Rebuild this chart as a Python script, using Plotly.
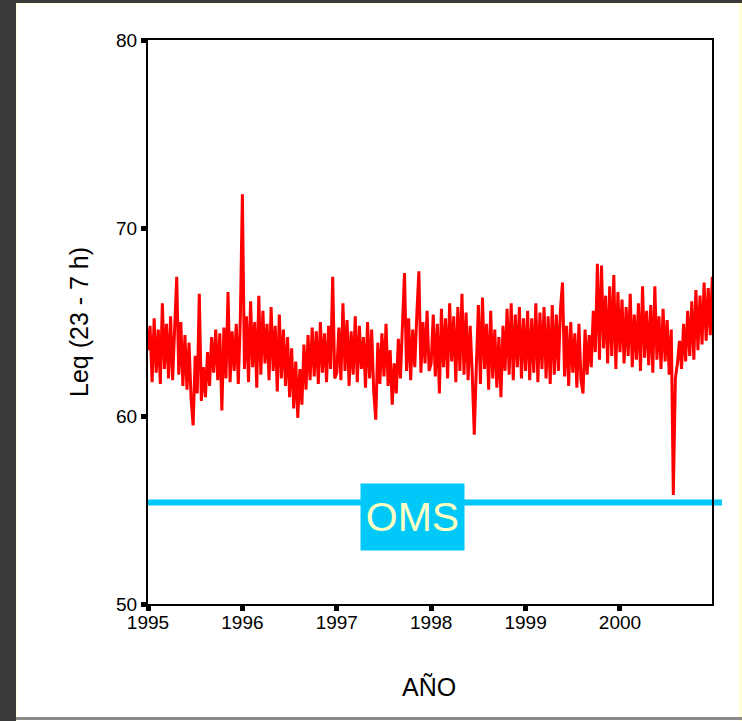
import numpy as np
import plotly.graph_objects as go

# ---- data (~8-day samples, 46 per year) ----
years = [1995, 1996, 1997, 1998, 1999, 2000]
leq_1995 = [63.5, 64.8, 61.8, 65.2, 62.3, 64.6, 61.7, 66.0, 62.5, 64.9, 62.0, 65.3, 61.9, 64.7, 67.4, 62.2,
            65.0, 61.6, 64.3, 61.4, 63.9, 60.9, 59.5, 63.2, 61.2, 66.5, 60.8, 62.6, 61.0, 63.4, 61.6, 64.2,
            62.3, 64.6, 61.9, 64.4, 60.3, 64.7, 62.0, 66.6, 61.8, 64.5, 62.4, 64.9, 61.7, 65.2]
leq_1996 = [71.8, 62.5, 65.3, 61.8, 66.1, 62.6, 65.0, 61.5, 66.4, 62.2, 65.6, 62.8, 64.9, 61.9, 65.8, 62.4,
            64.8, 61.3, 65.4, 62.0, 64.6, 61.6, 64.2, 61.0, 63.6, 60.4, 62.9, 59.9, 62.5, 60.6, 63.8, 61.4,
            64.3, 61.9, 64.7, 62.1, 64.5, 61.7, 65.0, 62.3, 64.4, 61.8, 64.8, 62.5, 67.4, 62.0]
leq_1997 = [62.3, 64.7, 61.9, 66.0, 62.4, 65.1, 61.6, 64.5, 62.2, 65.3, 61.8, 64.8, 62.5, 64.2, 61.5, 65.0,
            62.0, 64.6, 61.3, 59.8, 63.9, 61.7, 64.4, 62.1, 64.9, 61.6, 63.5, 60.6, 62.8, 61.2, 64.1, 62.0,
            64.8, 67.6, 62.4, 65.2, 61.9, 64.6, 62.6, 65.4, 67.7, 62.3, 65.0, 62.8, 65.6, 62.4]
leq_1998 = [62.8, 65.4, 62.1, 64.9, 61.2, 65.7, 62.6, 65.2, 62.0, 66.0, 62.9, 65.3, 61.8, 65.8, 62.4, 66.5,
            62.2, 65.5, 61.9, 64.8, 62.3, 59.0, 62.6, 65.9, 61.7, 66.3, 62.5, 64.9, 61.4, 65.6, 62.0, 64.6,
            61.5, 64.2, 61.0, 64.8, 62.4, 65.7, 62.2, 66.0, 61.9, 65.4, 62.6, 65.8, 62.0, 65.2]
leq_1999 = [62.4, 65.6, 61.9, 65.2, 62.3, 66.0, 61.8, 65.5, 62.5, 65.8, 62.0, 65.3, 61.7, 65.9, 62.2, 65.4,
            62.4, 65.7, 67.1, 62.1, 64.8, 61.6, 65.0, 62.3, 64.4, 61.5, 64.9, 61.9, 61.2, 64.6, 62.2, 64.3,
            62.6, 65.6, 63.4, 68.1, 63.0, 68.0, 63.6, 66.4, 62.8, 66.9, 63.2, 67.5, 62.5, 66.6]
leq_2000 = [63.4, 66.2, 62.8, 65.8, 63.2, 66.5, 62.6, 65.4, 63.0, 66.0, 62.4, 66.9, 63.1, 65.6, 62.7, 65.9,
            62.3, 66.9, 63.0, 65.3, 62.5, 65.7, 62.9, 65.1, 62.2, 64.6, 55.8, 62.0, 62.8, 64.0, 62.5, 64.9,
            62.9, 65.6, 63.2, 66.1, 63.0, 66.7, 63.5, 66.4, 63.8, 67.1, 64.0, 66.8, 64.3, 67.4]
oms_limit = 55.4
x_ticks = [1995, 1996, 1997, 1998, 1999, 2000]
y_ticks = [50, 60, 70, 80]

series = [leq_1995, leq_1996, leq_1997, leq_1998, leq_1999, leq_2000]
xs, ys = [], []
for yr, vals in zip(years, series):
    n = len(vals)
    xs.extend(yr + np.arange(n) / n)
    ys.extend(vals)

fig = go.Figure()
fig.add_trace(go.Scatter(x=xs, y=ys, mode="lines",
                         line=dict(color="#ff0000", width=3, simplify=False), showlegend=False,
                         hoverinfo="skip"))

L, R, T, B = 148, 712, 40, 604
W, H = 742, 721
pw, ph = R - L, B - T


def px(v):
    return (v - L) / pw


def py(v):
    return (B - v) / ph


# OMS reference line (extends a little beyond the plot frame)
fig.add_shape(type="line", xref="paper", yref="y", x0=px(147), x1=px(722),
              y0=oms_limit, y1=oms_limit, line=dict(color="#00c8f8", width=6), layer="below")

# window frame
frame = [
    (0, 0, 16, H, "#3a3a3a"),
    (0, 0, W, 3, "#3a3a3a"),
    (16, 3, 17, H, "#ffffd8"),
    (16, 3, W, 4, "#ffffd8"),
    (739, 3, W, H, "#ffffd8"),
    (16, 717, W, 720, "#8a8a8a"),
]
for x0, y0, x1, y1, c in frame:
    fig.add_shape(type="rect", xref="paper", yref="paper", x0=px(x0), x1=px(x1),
                  y0=py(y1), y1=py(y0), fillcolor=c, line=dict(width=0), layer="above")

fig.add_annotation(xref="paper", yref="paper", x=px(412.5), y=py(517), text="OMS",
                   xanchor="center", yanchor="middle",
                   showarrow=False, bgcolor="#00c8f8", width=103, height=66, borderpad=0,
                   font=dict(family="Liberation Sans, Arial", size=41, color="#ffffc4"))

fig.add_annotation(xref="paper", yref="paper", x=px(79), y=py(322), text="Leq (23 - 7 h)",
                   xanchor="center", yanchor="middle",
                   textangle=-90, showarrow=False,
                   font=dict(family="Liberation Sans, Arial", size=25, color="#000000"))
fig.add_annotation(xref="paper", yref="paper", x=px(429), y=py(687), text="AÑO",
                   xanchor="center", yanchor="middle",
                   showarrow=False,
                   font=dict(family="Liberation Sans, Arial", size=25, color="#000000"))

axis_common = dict(showgrid=False, zeroline=False, showline=True, linecolor="#000000",
                   linewidth=2, mirror=True, ticks="outside", ticklen=5, tickwidth=5,
                   tickcolor="#000000",
                   tickfont=dict(family="Liberation Sans, Arial", size=19, color="#000000"))

fig.update_xaxes(range=[1995, 2000.975], tickvals=x_ticks, ticktext=[str(v) for v in x_ticks],
                 ticklabelstandoff=-5, **axis_common)
fig.update_yaxes(range=[50, 80], tickvals=y_ticks, ticktext=[str(v) for v in y_ticks],
                 **axis_common)

fig.update_layout(width=W, height=H, margin=dict(l=L, r=W - R, t=T, b=H - B),
                  paper_bgcolor="#ffffff", plot_bgcolor="rgba(0,0,0,0)")

fig.write_html("out.html")
